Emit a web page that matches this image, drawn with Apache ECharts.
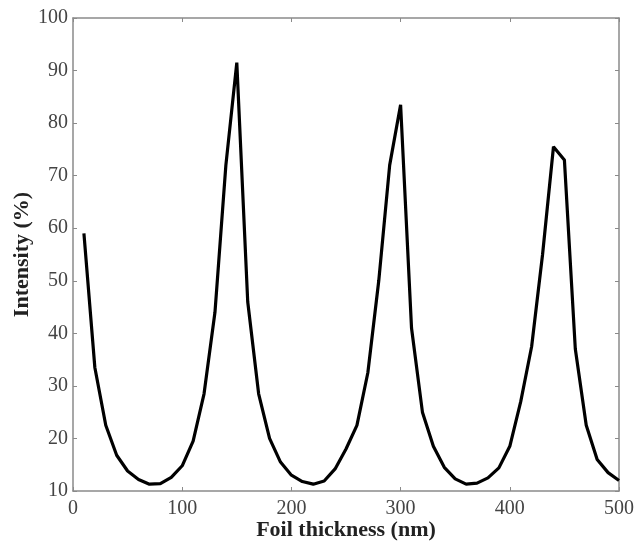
<!DOCTYPE html>
<html>
<head>
<meta charset="utf-8">
<script src="https://cdn.jsdelivr.net/npm/echarts@6/dist/echarts.min.js"></script>
<style>
  html, body { margin: 0; padding: 0; background: #fff; }
  #chart { width: 636px; height: 546px; }
</style>
</head>
<body>
<div id="chart"></div>
<script>
// foil thickness (nm)
const thickness = [
  10, 20, 30, 40, 50, 60, 70, 80, 90, 100,
  110, 120, 130, 140, 150, 160, 170, 180, 190, 200,
  210, 220, 230, 240, 250, 260, 270, 280, 290, 300,
  310, 320, 330, 340, 350, 360, 370, 380, 390, 400,
  410, 420, 430, 440, 450, 460, 470, 480, 490, 500
]
// intensity (%)
const intensity = [
  59, 33.5, 22.5, 16.8, 13.8, 12.2, 11.3, 11.4, 12.6, 14.8,
  19.5, 28.5, 44, 72, 91.5, 46, 28.5, 20, 15.5, 13,
  11.8, 11.3, 11.9, 14.2, 18, 22.5, 32.5, 50, 72, 83.5,
  41, 25, 18.5, 14.5, 12.3, 11.3, 11.5, 12.5, 14.4, 18.5,
  27, 37.5, 55, 75.5, 73, 37, 22.5, 16, 13.5, 12
]

const font = 'Liberation Serif'
const axisColor = '#8a8a8a'

const chart = echarts.init(document.getElementById('chart'))

const baseX = {
  type: 'value',
  min: 0,
  max: 500,
  interval: 100,
  splitLine: { show: false },
  axisLine: { show: true, onZero: false, lineStyle: { color: axisColor, width: 1.5 } },
  axisTick: { show: true, inside: true, length: 4, lineStyle: { color: axisColor } }
}
const baseY = {
  type: 'value',
  min: 10,
  max: 100,
  interval: 10,
  splitLine: { show: false },
  axisLine: { show: true, onZero: false, lineStyle: { color: axisColor, width: 1.5 } },
  axisTick: { show: true, inside: true, length: 4, lineStyle: { color: axisColor } }
}

chart.setOption({
  animation: false,
  grid: { left: 73, right: 17, top: 18, bottom: 55, containLabel: false, outerBoundsMode: 'none' },
  xAxis: [
    {
      ...baseX,
      position: 'bottom',
      name: 'Foil thickness (nm)',
      nameLocation: 'middle',
      nameGap: 28,
      nameMoveOverlap: false,
      nameTextStyle: { fontFamily: font, fontWeight: 'bold', fontSize: 22, color: '#222' },
      axisLabel: { fontFamily: font, fontSize: 20, color: '#444', margin: 8 }
    },
    { ...baseX, position: 'top', axisLabel: { show: false } }
  ],
  yAxis: [
    {
      ...baseY,
      position: 'left',
      name: 'Intensity (%)',
      nameLocation: 'middle',
      nameGap: 40,
      nameMoveOverlap: false,
      nameTextStyle: { fontFamily: font, fontWeight: 'bold', fontSize: 22, color: '#222' },
      axisLabel: { fontFamily: font, fontSize: 20, color: '#444', margin: 5 }
    },
    { ...baseY, position: 'right', axisLabel: { show: false } }
  ],
  series: [
    {
      type: 'line',
      data: thickness.map((t, i) => [t, intensity[i]]),
      showSymbol: false,
      smooth: false,
      lineStyle: { color: '#000', width: 3.2 }
    }
  ]
})
</script>
</body>
</html>
